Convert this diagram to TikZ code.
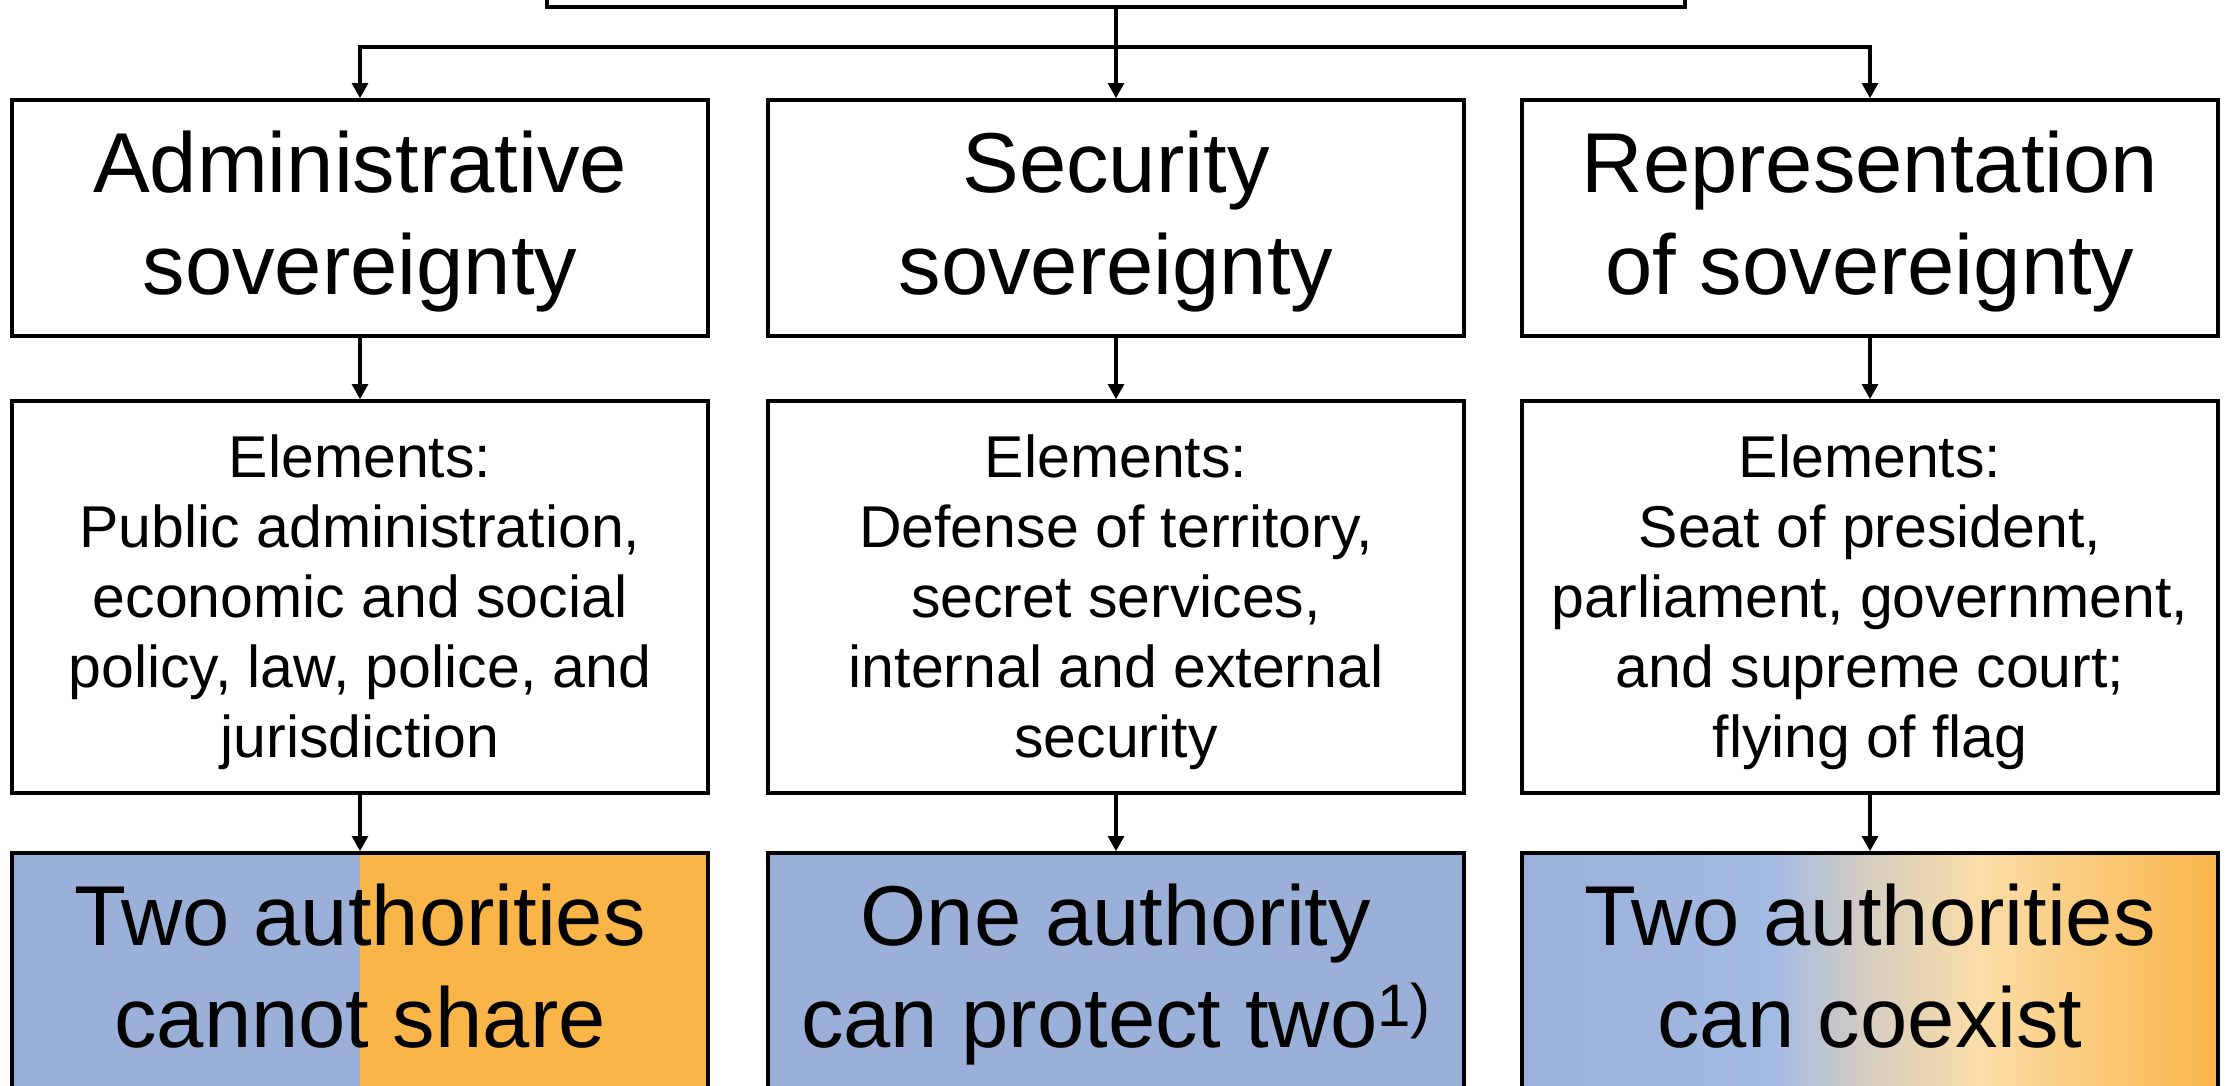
\documentclass[tikz,border=0pt]{standalone}
\usepackage{fontspec}
\setmainfont{Liberation Sans}
\usetikzlibrary{arrows.meta}
\definecolor{cblue}{RGB}{155,176,216}
\definecolor{cbluel}{RGB}{163,186,227}
\definecolor{cgray}{RGB}{214,206,192}
\definecolor{corangel}{RGB}{251,221,167}
\definecolor{corange}{RGB}{249,181,72}
\pgfdeclarehorizontalshading{coexist}{100bp}{color(0bp)=(cblue); color(25bp)=(cblue); color(43bp)=(cbluel); color(50bp)=(cgray); color(58bp)=(corangel); color(75bp)=(corange); color(100bp)=(corange)}
\newcommand\lst{\rule[-0.25em]{0pt}{1.05em}}
\tikzset{
  box/.style={draw=black, line width=1.8pt, minimum width=348pt, inner sep=0pt},
  headbox/.style={box, minimum height=118pt},
  elembox/.style={box, minimum height=196pt},
  resbox/.style={box, minimum height=118pt},
  bigtxt/.style={font=\fontsize{42.5}{51}\selectfont, align=center, inner sep=0pt},
  smalltxt/.style={font=\fontsize{29.5}{35}\selectfont, align=center, inner sep=0pt},
  conn/.style={line width=1.8pt, line join=miter},
  arr/.style={conn, -{Triangle[length=7.5pt,width=7.8pt]}},
  splitfill/.style={path picture={
    \fill[cblue] (path picture bounding box.south west) rectangle (path picture bounding box.north);
    \fill[corange] (path picture bounding box.north) rectangle (path picture bounding box.south east);}},
}
\begin{document}
\begin{tikzpicture}[x=0.5pt,y=-0.5pt]
\useasboundingbox (0,0) rectangle (2231,1086);
\clip (0,0) rectangle (2231,1086);
% top box (title clipped off)
\node[box, minimum width=569pt, minimum height=118pt] (top) at (1116,-111) {};
% row 1
\node[headbox] (adm) at (360,218) {};
\node[headbox] (sec) at (1116,218) {};
\node[headbox] (rep) at (1870,218) {};
\node[bigtxt] (admT) at ([yshift=-1.3pt]adm.center) {\lst Administrative\\\lst sovereignty};
\node[bigtxt] (secT) at ([yshift=-1.3pt]sec.center) {\lst Security\\\lst sovereignty};
\node[bigtxt] (repT) at ([yshift=-1.3pt]rep.center) {\lst Representation\\\lst of sovereignty};
% row 2
\node[elembox] (admE) at (360,597) {};
\node[elembox] (secE) at (1116,597) {};
\node[elembox] (repE) at (1870,597) {};
\node[smalltxt] (admET) at ([yshift=-1.9pt]admE.center) {\lst Elements:\\\lst Public administration,\\\lst economic and social\\\lst policy, law, police, and\\\lst jurisdiction};
\node[smalltxt] (secET) at ([yshift=-1.9pt]secE.center) {\lst Elements:\\\lst Defense of territory,\\\lst secret services,\\\lst internal and external\\\lst security};
\node[smalltxt] (repET) at ([yshift=-1.9pt]repE.center) {\lst Elements:\\\lst Seat of president,\\\lst parliament, government,\\\lst and supreme court;\\\lst flying of flag};
% row 3
\node[resbox, splitfill] (admR) at (360,971) {};
\node[resbox, fill=cblue] (secR) at (1116,971) {};
\node[resbox, shade, shading=coexist] (repR) at (1870,971) {};
\node[bigtxt] (admRT) at ([yshift=-1.3pt]admR.center) {\lst Two authorities\\\lst cannot share};
\node[bigtxt] (secRT) at ([yshift=-1.3pt]secR.center) {\lst One authority\\\lst can protect two\raisebox{10.5pt}{\fontsize{30}{30}\selectfont 1)}};
\node[bigtxt] (repRT) at ([yshift=-1.3pt]repR.center) {\lst Two authorities\\\lst can coexist};
% connectors
\coordinate (bus) at (1116,47);
\draw[conn, {Triangle[length=7.5pt,width=7.8pt]}-{Triangle[length=7.5pt,width=7.8pt]}] (adm.north) |- (bus) -| (rep.north);
\draw[arr] (top.south) -- (sec.north);
\draw[arr] (adm.south) -- (admE.north);
\draw[arr] (sec.south) -- (secE.north);
\draw[arr] (rep.south) -- (repE.north);
\draw[arr] (admE.south) -- (admR.north);
\draw[arr] (secE.south) -- (secR.north);
\draw[arr] (repE.south) -- (repR.north);
\end{tikzpicture}
\end{document}
